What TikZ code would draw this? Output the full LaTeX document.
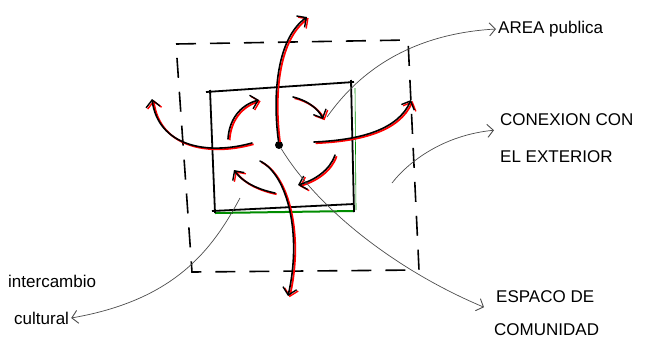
\documentclass[tikz,border=0pt]{standalone}
\usepackage{fontspec}
\setmainfont{Liberation Sans}
\usetikzlibrary{arrows.meta,calc}
\begin{document}
\begin{tikzpicture}[x=1pt,y=-1pt,
  flow/.style={line width=1.6pt,black,line cap=round,
    -{Straight Barb[length=7pt,width=14pt,line width=1.4pt]},
    preaction={draw=red,line width=1.8pt,transform canvas={shift={(1.6pt,-1.2pt)}}}},
  leader/.style={draw=black!70,line width=0.7pt,
    -{Straight Barb[length=6pt,width=13pt,line width=0.9pt]}},
  lbl/.style={anchor=west,inner sep=2pt,font=\fontsize{17}{19}\selectfont}]
\useasboundingbox (0,0) rectangle (660,346);
% outer dashed square
\draw[line width=1.6pt,dash pattern=on 20pt off 14pt] (176,44) -- (408,40) -- (419,270) -- (192,272) -- cycle;
% green edges
\draw[green!55!black,line width=2pt] (215,213) -- (354,211);
\draw[green!55!black,line width=0.6pt] (355,88) -- (356,210);
% inner square
\draw[line width=1.8pt] (206,92) -- (354,82);
\draw[line width=1.8pt] (351,80) -- (354,212);
\draw[line width=1.8pt] (212,211) -- (354,204);
\draw[line width=1.8pt] (210,90) -- (215,213);
% centre dot
\node (dot) [circle,fill=black,inner sep=0pt,minimum size=8pt] at (279,145) {};
% flow arrows
\draw[flow] (dot) .. controls (273,100) and (275,40) .. (307,17);
\draw[flow] (260,161) .. controls (288,175) and (302,235) .. (288,296);
\draw[flow] (252,143) .. controls (205,156) and (158,145) .. (152,99);
\draw[flow] (314,142) .. controls (360,140) and (398,130) .. (411,100);
\draw[flow] (228,139) .. controls (229,120) and (240,105) .. (259,100);
\draw[flow] (293,97) .. controls (306,100) and (318,108) .. (323,119);
\draw[flow] (335,155) .. controls (330,170) and (315,180) .. (298,185);
\draw[flow] (275,193) .. controls (260,190) and (243,183) .. (234,170);
% labels
\node (area) [lbl] at (496,29) {AREA publica};
\node (con1) [lbl] at (498,120) {CONEXION CON};
\node (con2) [lbl] at (498,157) {EL EXTERIOR};
\node (esp1) [lbl] at (494,297) {ESPACO DE};
\node (esp2) [lbl] at (492,330) {COMUNIDAD};
\node (int1) [lbl] at (6,281) {intercambio};
\node (int2) [lbl] at (12,318) {cultural};
% leader lines
\coordinate (a1) at (327,117);
\coordinate (c1) at (392,183);
\coordinate (i1) at (240,198);
\draw[leader] (a1) .. controls (345,92) and (390,35) .. (area.west);
\draw[leader] (c1) .. controls (410,160) and (445,135) .. ($(con1.south west)+(-4,2)$);
\draw[leader] (dot) .. controls (320,212) and (400,272) .. ($(esp1.south west)+(-10,2)$);
\draw[leader] (i1) .. controls (212,250) and (175,300) .. (int2.east);
\end{tikzpicture}
\end{document}
